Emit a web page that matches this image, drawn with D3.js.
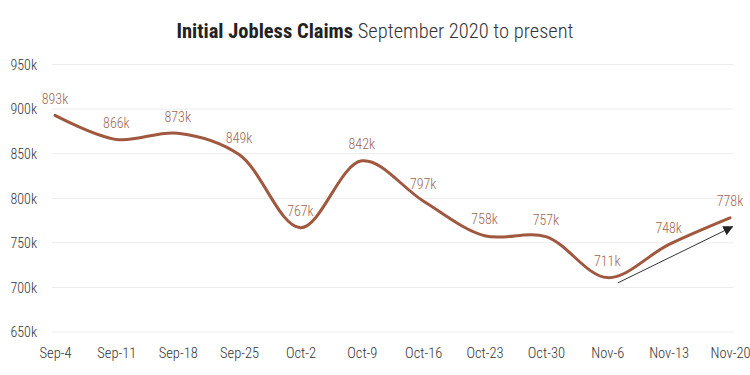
<!DOCTYPE html>
<html>
<head>
<meta charset="utf-8">
<script src="https://cdn.jsdelivr.net/npm/d3@7"></script>
<style>
  html, body { margin: 0; padding: 0; background: #fff; }
  svg text { font-family: "Roboto Condensed", "Liberation Sans Narrow", "DejaVu Sans Condensed", "Arial Narrow", Roboto, sans-serif; }
</style>
</head>
<body>
<svg id="chart" width="750" height="375"></svg>
<script>
const categories = ["Sep-4","Sep-11","Sep-18","Sep-25","Oct-2","Oct-9","Oct-16","Oct-23","Oct-30","Nov-6","Nov-13","Nov-20"];
const claims = [893000, 866000, 873000, 849000, 767000, 842000, 797000, 758000, 757000, 711000, 748000, 778000];
const dataLabels = ["893k","866k","873k","849k","767k","842k","797k","758k","757k","711k","748k","778k"];
const yTicks = [650000, 700000, 750000, 800000, 850000, 900000, 950000];
const yTickLabels = ["650k","700k","750k","800k","850k","900k","950k"];
// trend arrow annotation: [category index, value]
const arrowFrom = [9.17, 705000];
const arrowTo = [11.04, 768000];

const svg = d3.select("#chart");
const x = d3.scaleLinear().domain([0, categories.length - 1]).range([55, 730]);
const y = d3.scaleLinear().domain([650000, 950000]).range([332, 64.5]);

// title
const title = svg.append("text").attr("x", 375).attr("y", 38).attr("text-anchor", "middle")
  .attr("font-size", 20.5).attr("fill", "#222");
title.append("tspan").attr("font-weight", "bold").text("Initial Jobless Claims");
title.append("tspan").attr("font-weight", 300).attr("fill", "#333").text(" September 2020 to present");

// grid
svg.append("g").selectAll("line").data(yTicks).join("line")
  .attr("x1", 52).attr("x2", 733)
  .attr("y1", d => y(d)).attr("y2", d => y(d))
  .attr("stroke", "#ececec").attr("stroke-width", 1);

// y axis
const yAxis = d3.axisLeft(y).tickValues(yTicks).tickFormat((d, i) => yTickLabels[i]).tickSize(0).tickPadding(0);
const yg = svg.append("g").attr("transform", "translate(37,0)").call(yAxis);
yg.select(".domain").remove();
yg.selectAll("text").attr("font-size", 14).attr("font-weight", 300).attr("fill", "#333").attr("dy", "0.35em");

// x axis
const xAxis = d3.axisBottom(x).tickValues(d3.range(categories.length)).tickFormat(i => categories[i]).tickSize(0).tickPadding(0);
const xg = svg.append("g").attr("transform", "translate(0,348)").call(xAxis);
xg.select(".domain").remove();
xg.selectAll("text").attr("font-size", 14.5).attr("font-weight", 300).attr("fill", "#333").attr("dy", "0.71em");

// line
const line = d3.line().x((d, i) => x(i)).y(d => y(d)).curve(d3.curveCatmullRom);
svg.append("path").datum(claims).attr("d", line)
  .attr("fill", "none").attr("stroke", "#a0583f").attr("stroke-width", 3).attr("stroke-linecap", "round");

// data labels
svg.append("g").selectAll("text").data(claims).join("text")
  .attr("x", (d, i) => x(i)).attr("y", d => y(d) - 11.5)
  .attr("text-anchor", "middle").attr("font-size", 14).attr("font-weight", 300).attr("fill", "#a0654f")
  .text((d, i) => dataLabels[i]);

// arrow
svg.append("defs").append("marker").attr("id", "arrowhead")
  .attr("viewBox", "0 0 10 10").attr("refX", 9).attr("refY", 5)
  .attr("markerWidth", 10).attr("markerHeight", 10).attr("markerUnits", "userSpaceOnUse")
  .attr("orient", "auto")
  .append("path").attr("d", "M0,0 L10,5 L0,10 Z").attr("fill", "#222");
svg.append("line")
  .attr("x1", x(arrowFrom[0])).attr("y1", y(arrowFrom[1]))
  .attr("x2", x(arrowTo[0])).attr("y2", y(arrowTo[1]))
  .attr("stroke", "#333").attr("stroke-width", 1).attr("marker-end", "url(#arrowhead)");
</script>
</body>
</html>
